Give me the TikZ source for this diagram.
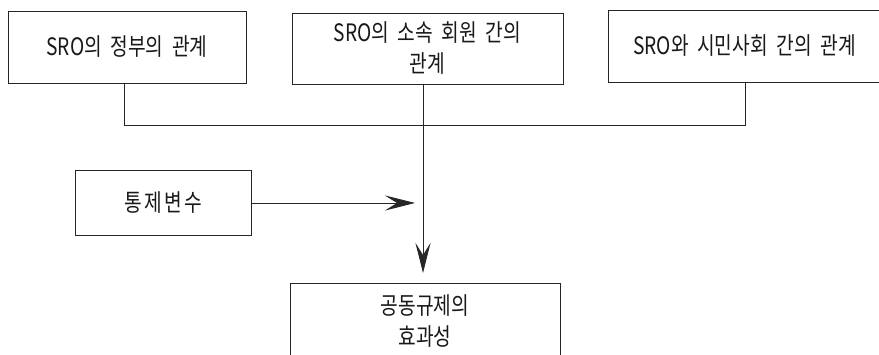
\documentclass[tikz,border=0pt]{standalone}
\usepackage{fontspec}
\setmainfont{Noto Sans CJK KR}[WordSpace=2.0, FakeStretch=0.8]
\newfontfamily\spacedfont{Noto Sans CJK KR}[FakeStretch=0.8, LetterSpace=10]
\usetikzlibrary{arrows.meta}
\tikzset{
  box/.style={draw=black!85, line width=0.8pt, rectangle, inner sep=0pt, align=center,
    font=\fontsize{24}{31}\selectfont, text=black!90},
  conn/.style={draw=black!85, line width=0.8pt},
  tip/.style={-{Stealth[length=30pt, width=15pt, inset=12pt]}}
}
\begin{document}
\begin{tikzpicture}[x=1pt,y=-1pt]
\useasboundingbox (0,0) rectangle (879,355);
\clip (0,0) rectangle (879,355);
\fill[white] (0,0) rectangle (879,355);
\node[box, minimum width=238pt, minimum height=72pt] (b1) at (127,47) {SRO의 정부의 관계};
\node[box, minimum width=271pt, minimum height=71pt] (b2) at (427.5,48.5) {SRO의 소속 회원 간의\\관계};
\node[box, minimum width=273pt, minimum height=72pt] (b3) at (744.5,46) {SRO와 시민사회 간의 관계};
\node[box, minimum width=176pt, minimum height=65pt] (ctrl) at (163,203) {\spacedfont 통제변수};
\node[box, minimum width=270pt, minimum height=76pt] (eff) at (425,321) {공동규제의\\효과성};
\coordinate (j1) at (124,125);
\coordinate (j3) at (745,125);
\coordinate (hend) at (415,203);
\coordinate (vend) at (423,273);
\draw[conn] (b1.south -| j1) -- (j1) -- (j3) -- (b3.south -| j3);
\draw[conn, tip] (b2.south -| vend) -- (vend);
\draw[conn, tip] (ctrl.east) -- (hend);
\end{tikzpicture}
\end{document}
